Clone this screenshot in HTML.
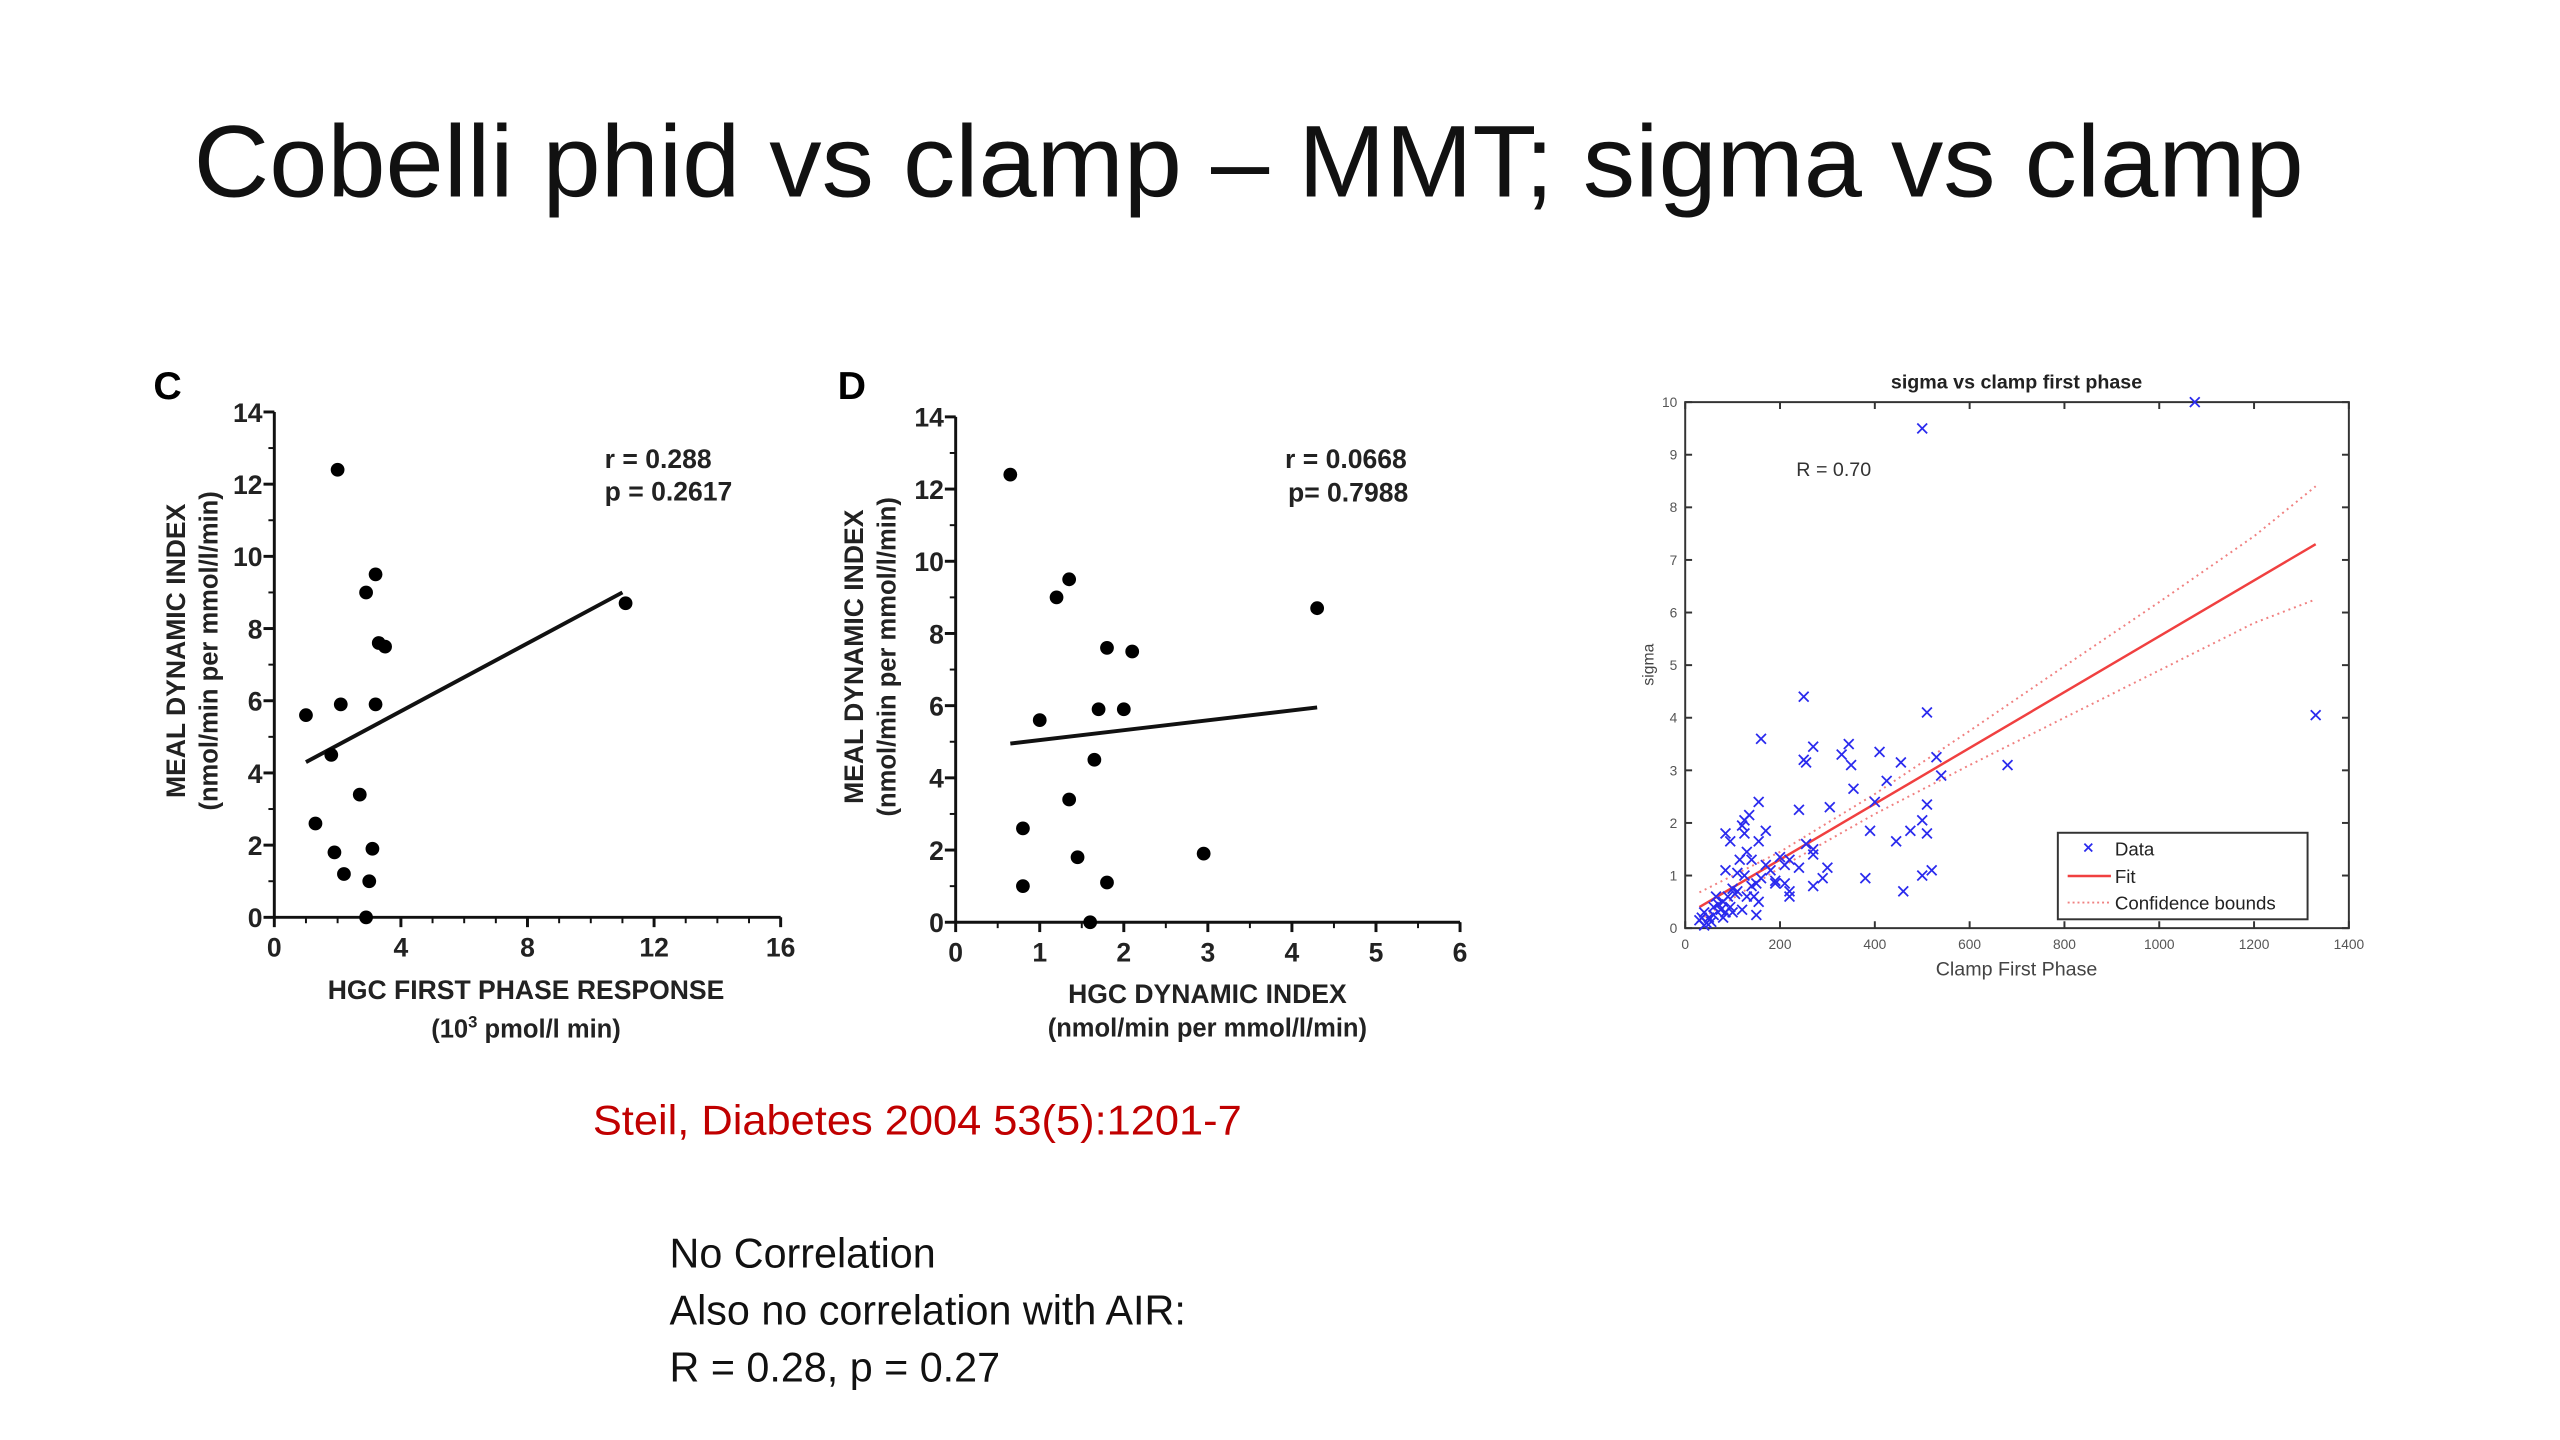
<!DOCTYPE html>
<html><head><meta charset="utf-8"><style>
html,body{margin:0;padding:0;background:#fff;}
svg{display:block;}
text{font-family:"Liberation Sans",sans-serif;}
</style></head><body>
<svg id="s" width="2560" height="1440" viewBox="0 0 2560 1440" xmlns="http://www.w3.org/2000/svg">
<g transform="scale(0.9832)">
<text x="1270" y="200" font-size="104" text-anchor="middle" fill="#111" textLength="2146" lengthAdjust="spacingAndGlyphs">Cobelli phid vs clamp – MMT; sigma vs clamp</text>
<text x="603" y="1154" font-size="42" fill="#c00000" textLength="660" lengthAdjust="spacingAndGlyphs">Steil, Diabetes 2004 53(5):1201-7</text>
<text x="681" y="1289" font-size="42" fill="#111">No Correlation</text>
<text x="681" y="1347" font-size="42" fill="#111">Also no correlation with AIR:</text>
<text x="681" y="1405" font-size="42" fill="#111">R = 0.28, p = 0.27</text>
<g id="gc"></g>
<g id="gd"></g>
<g id="gs"></g>
</g>
</svg>
<script>
// Chart C data
const cX=[1.0,1.3,2.0,2.1,1.8,1.9,2.2,2.7,2.9,3.2,3.2,3.0,3.1,3.3,3.5,2.9,11.1];
const cY=[5.6,2.6,12.4,5.9,4.5,1.8,1.2,3.4,9.0,9.5,5.9,1.0,1.9,7.6,7.5,0.0,8.7];
const cFitX=[1.0,11.0];
const cFitY=[4.3,9.0];
const cXTicks=[0,4,8,12,16];
const cYTicks=[0,2,4,6,8,10,12,14];
// Chart D data
const dX=[0.65,0.8,0.8,1.0,1.2,1.35,1.35,1.45,1.6,1.65,1.7,1.8,1.8,2.0,2.1,2.95,4.3];
const dY=[12.4,2.6,1.0,5.6,9.0,9.5,3.4,1.8,0.0,4.5,5.9,7.6,1.1,5.9,7.5,1.9,8.7];
const dFitX=[0.65,4.3];
const dFitY=[4.95,5.95];
const dXTicks=[0,1,2,3,4,5,6];
const dYTicks=[0,2,4,6,8,10,12,14];
// Sigma chart data
const sX=[250,510,160,270,345,330,250,255,410,455,350,530,540,680,425,355,155,400,510,240,305,135,125,120,500,85,125,170,390,475,510,95,155,445,255,270,270,130,115,140,200,220,170,210,240,300,520,85,110,125,190,210,270,290,380,500,460,220,220,150,140,100,105,90,65,145,130,155,80,70,60,75,120,85,150,40,35,50,45,30,60,80,100,190,500,1075,1330,40,55,95,110,160,180];
const sY=[4.4,4.1,3.6,3.45,3.5,3.3,3.2,3.15,3.35,3.15,3.1,3.25,2.9,3.1,2.8,2.65,2.4,2.4,2.35,2.25,2.3,2.15,2.05,1.95,2.05,1.8,1.8,1.85,1.85,1.85,1.8,1.65,1.65,1.65,1.6,1.5,1.4,1.45,1.3,1.3,1.35,1.3,1.2,1.2,1.15,1.15,1.1,1.1,1.05,1.0,0.9,0.85,0.8,0.95,0.95,1.0,0.7,0.7,0.6,0.85,0.8,0.75,0.65,0.6,0.6,0.6,0.6,0.5,0.5,0.45,0.4,0.35,0.35,0.3,0.25,0.3,0.2,0.2,0.1,0.15,0.25,0.2,0.3,0.85,9.5,10.0,4.05,0.05,0.12,0.4,0.7,0.95,1.1];
const sFitX=[30,1330];
const sFitY=[0.4,7.3];
const sBoundX=[30,200,400,600,800,1000,1200,1330];
const sUpper=[0.68,1.45,2.55,3.75,4.98,6.2,7.45,8.4];
const sLower=[0.15,1.15,2.17,3.1,4.0,4.9,5.8,6.25];
const sXTicks=[0,200,400,600,800,1000,1200,1400];
const sYTicks=[0,1,2,3,4,5,6,7,8,9,10];

const NS="http://www.w3.org/2000/svg";
function mk(p,tag,at,txt){const e=document.createElementNS(NS,tag);for(const k in at)e.setAttribute(k,at[k]);if(txt!==undefined)e.textContent=txt;p.appendChild(e);return e;}
function lin(d0,d1,p0,p1){return v=>p0+(v-d0)*(p1-p0)/(d1-d0);}

function gp(g,o){
  const sx=lin(o.x0,o.x1,o.L,o.R), sy=lin(o.y0,o.y1,o.B,o.T);
  let e=mk(g,'line',{x1:o.L,y1:o.B,x2:o.R,y2:o.B,stroke:'#111','stroke-width':3});
  
  
  e=mk(g,'line',{x1:o.L,y1:o.B,x2:o.L,y2:o.T,stroke:'#111','stroke-width':3});
  
  
  for(let v=o.x0;v<=o.x1+1e-9;v+=o.xminor){const x=sx(v);mk(g,'line',{x1:x,y1:o.B,x2:x,y2:o.B+6,stroke:'#111','stroke-width':2});}
  for(let v=o.y0;v<=o.y1+1e-9;v+=1){const y=sy(v);mk(g,'line',{x1:o.L-6,y1:y,x2:o.L,y2:y,stroke:'#111','stroke-width':2});}
  o.xt.forEach(v=>{const x=sx(v);mk(g,'line',{x1:x,y1:o.B,x2:x,y2:o.B+10,stroke:'#111','stroke-width':3});
    e=mk(g,'text',{x:x,y:o.B+40,'font-size':27,'font-weight':'bold','text-anchor':'middle',fill:'#222'},String(v));
    
    });
  o.yt.forEach(v=>{const y=sy(v);mk(g,'line',{x1:o.L-11,y1:y,x2:o.L,y2:y,stroke:'#111','stroke-width':3});
    e=mk(g,'text',{x:o.L-12,y:y+10,'font-size':27,'font-weight':'bold','text-anchor':'end',fill:'#222'},String(v));
    
    });
  e=mk(g,'line',{x1:sx(o.fx[0]),y1:sy(o.fy[0]),x2:sx(o.fx[1]),y2:sy(o.fy[1]),stroke:'#111','stroke-width':4});
  
  
  o.px.forEach((v,i)=>{e=mk(g,'circle',{cx:sx(v),cy:sy(o.py[i]),r:7,fill:'#000'});
    
    });
}
const gc=document.getElementById('gc');
gp(gc,{L:279,R:794,T:419,B:933,x0:0,x1:16,y0:0,y1:14,xminor:1,xt:cXTicks,yt:cYTicks,px:cX,py:cY,fx:cFitX,fy:cFitY});
const gd=document.getElementById('gd');
gp(gd,{L:972,R:1485,T:424,B:938,x0:0,x1:6,y0:0,y1:14,xminor:0.5,xt:dXTicks,yt:dYTicks,px:dX,py:dY,fx:dFitX,fy:dFitY});
function T(g,at,txt,name){const e=mk(g,'text',at,txt);return e;}
T(gc,{x:156,y:406,'font-size':40,'font-weight':'bold'},'C','panel-label-c');
T(gc,{x:615,y:476,'font-size':27,'font-weight':'bold',fill:'#222'},'r = 0.288','r-value-c');
T(gc,{x:615,y:509,'font-size':27,'font-weight':'bold',fill:'#222'},'p = 0.2617','p-value-c');
T(gc,{x:535,y:1016,'font-size':27,'font-weight':'bold','text-anchor':'middle',fill:'#222'},'HGC FIRST PHASE RESPONSE','x-axis-title-c');
let t=T(gc,{x:535,y:1055,'font-size':26,'font-weight':'bold','text-anchor':'middle',fill:'#222'},'','x-axis-unit-c');
t.innerHTML='(10<tspan dy="-10" font-size="17">3</tspan><tspan dy="10"> pmol/l min)</tspan>';
T(gc,{x:0,y:0,'font-size':27,'font-weight':'bold','text-anchor':'middle',fill:'#222',transform:'translate(188,662) rotate(-90)'},'MEAL DYNAMIC INDEX','y-axis-title-c');
T(gc,{x:0,y:0,'font-size':26,'font-weight':'bold','text-anchor':'middle',fill:'#222',transform:'translate(221,662) rotate(-90)'},'(nmol/min per mmol/l/min)','y-axis-unit-c');
T(gd,{x:852,y:406,'font-size':40,'font-weight':'bold'},'D','panel-label-d');
T(gd,{x:1307,y:476,'font-size':27,'font-weight':'bold',fill:'#222'},'r =  0.0668','r-value-d');
T(gd,{x:1310,y:510,'font-size':27,'font-weight':'bold',fill:'#222'},'p=  0.7988','p-value-d');
T(gd,{x:1228,y:1020,'font-size':27,'font-weight':'bold','text-anchor':'middle',fill:'#222'},'HGC DYNAMIC INDEX','x-axis-title-d');
T(gd,{x:1228,y:1054,'font-size':26,'font-weight':'bold','text-anchor':'middle',fill:'#222'},'(nmol/min per mmol/l/min)','x-axis-unit-d');
T(gd,{x:0,y:0,'font-size':27,'font-weight':'bold','text-anchor':'middle',fill:'#222',transform:'translate(878,668) rotate(-90)'},'MEAL DYNAMIC INDEX','y-axis-title-d');
T(gd,{x:0,y:0,'font-size':26,'font-weight':'bold','text-anchor':'middle',fill:'#222',transform:'translate(911,668) rotate(-90)'},'(nmol/min per mmol/l/min)','y-axis-unit-d');

// sigma chart
const gs=document.getElementById('gs');
const L=1714,R=2389,Tp=409,B=944;
const sx=lin(0,1400,L,R), sy=lin(0,10,B,Tp);
let e=mk(gs,'rect',{x:L,y:Tp,width:R-L,height:B-Tp,fill:'none',stroke:'#333','stroke-width':2});


sXTicks.forEach(v=>{const x=sx(v);mk(gs,'line',{x1:x,y1:B,x2:x,y2:B-7,stroke:'#333','stroke-width':2});mk(gs,'line',{x1:x,y1:Tp,x2:x,y2:Tp+7,stroke:'#333','stroke-width':2});
  e=mk(gs,'text',{x:x,y:B+21,'font-size':14,'text-anchor':'middle',fill:'#555'},String(v));
  
  });
sYTicks.forEach(v=>{const y=sy(v);mk(gs,'line',{x1:L,y1:y,x2:L+7,y2:y,stroke:'#333','stroke-width':2});mk(gs,'line',{x1:R,y1:y,x2:R-7,y2:y,stroke:'#333','stroke-width':2});
  e=mk(gs,'text',{x:L-8,y:y+5,'font-size':14,'text-anchor':'end',fill:'#555'},String(v));
  
  });
function pl(xs,ys){return xs.map((v,i)=>sx(v)+','+sy(ys[i])).join(' ');}
e=mk(gs,'polyline',{points:pl(sBoundX,sUpper),fill:'none',stroke:'#f08080','stroke-width':2,'stroke-dasharray':'2,4'});


e=mk(gs,'polyline',{points:pl(sBoundX,sLower),fill:'none',stroke:'#f08080','stroke-width':2,'stroke-dasharray':'2,4'});


e=mk(gs,'line',{x1:sx(sFitX[0]),y1:sy(sFitY[0]),x2:sx(sFitX[1]),y2:sy(sFitY[1]),stroke:'#f04040','stroke-width':2.5});


sX.forEach((v,i)=>{const x=sx(v),y=sy(sY[i]);
  e=mk(gs,'path',{d:`M${x-5},${y-5}L${x+5},${y+5}M${x-5},${y+5}L${x+5},${y-5}`,stroke:'#2a2aee','stroke-width':1.8});
  
  });
T(gs,{x:2051,y:395,'font-size':20,'font-weight':'bold','text-anchor':'middle',fill:'#222'},'sigma vs clamp first phase','chart-title');
T(gs,{x:1827,y:484,'font-size':20,fill:'#333'},'R = 0.70','r-value');
T(gs,{x:2051,y:992,'font-size':20,'text-anchor':'middle',fill:'#444'},'Clamp First Phase','x-axis-title');
T(gs,{x:0,y:0,'font-size':16,'text-anchor':'middle',fill:'#444',transform:'translate(1682,676) rotate(-90)'},'sigma','y-axis-title');
const lg=mk(gs,'g',{});


mk(lg,'rect',{x:2093,y:847,width:254,height:88,fill:'#fff',stroke:'#333','stroke-width':2});
mk(lg,'path',{d:'M2120,858L2128,866M2120,866L2128,858',stroke:'#2a2aee','stroke-width':1.8});
T(lg,{x:2151,y:870,'font-size':19,fill:'#222'},'Data','legend-entry-data');
mk(lg,'line',{x1:2103,y1:891,x2:2147,y2:891,stroke:'#f04040','stroke-width':2.5});
T(lg,{x:2151,y:898,'font-size':19,fill:'#222'},'Fit','legend-entry-fit');
mk(lg,'line',{x1:2103,y1:918,x2:2147,y2:918,stroke:'#f08080','stroke-width':2,'stroke-dasharray':'2,3'});
T(lg,{x:2151,y:925,'font-size':19,fill:'#222'},'Confidence bounds','legend-entry-bounds');
</script>
</body></html>
